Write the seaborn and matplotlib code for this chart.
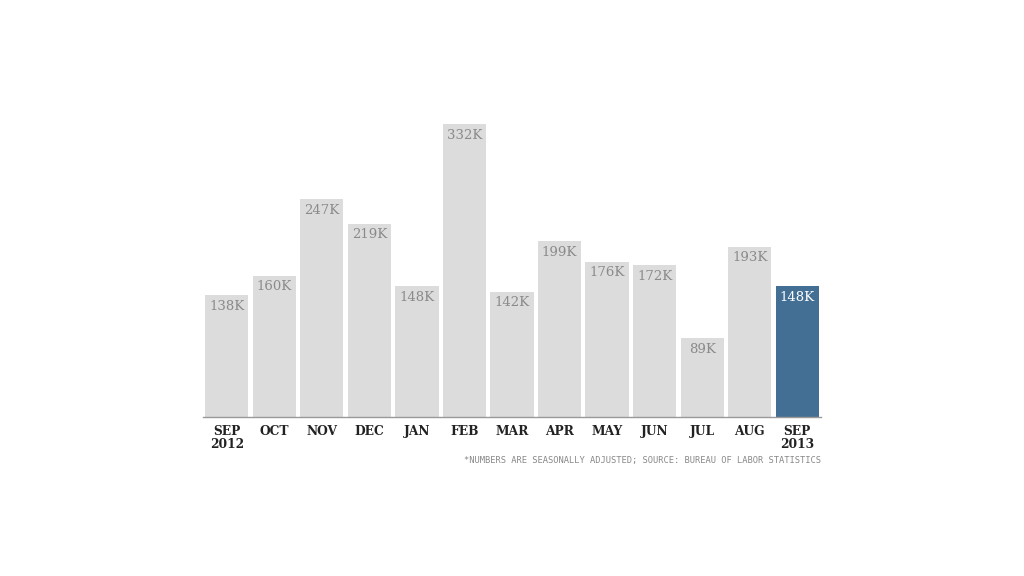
import matplotlib
matplotlib.use("Agg")
import matplotlib.pyplot as plt
import seaborn as sns
import pandas as pd

months = ["SEP\n2012", "OCT", "NOV", "DEC", "JAN", "FEB", "MAR", "APR", "MAY", "JUN", "JUL", "AUG", "SEP\n2013"]
jobs = [138, 160, 247, 219, 148, 332, 142, 199, 176, 172, 89, 193, 148]
highlight = [False] * 12 + [True]
footnote = "*NUMBERS ARE SEASONALLY ADJUSTED; SOURCE: BUREAU OF LABOR STATISTICS"

df = pd.DataFrame({"month": months, "jobs": jobs, "hl": highlight})

sns.set_theme(style="white")
fig = plt.figure(figsize=(10.24, 5.76), dpi=100)
ax = fig.add_axes([203 / 1024, 1 - 417 / 576, (821 - 203) / 1024, (417 - 124) / 576])

sns.barplot(data=df, x="month", y="jobs", hue="hl", palette={False: "#dcdcdc", True: "#426f93"},
            dodge=False, width=0.91, legend=False, ax=ax, saturation=1, linewidth=0)

ax.set_ylim(0, max(jobs))
ax.set_xlim(-0.5, len(months) - 0.5)
ax.set_xlabel("")
ax.set_ylabel("")
ax.set_yticks([])
for s in ["top", "right", "left"]:
    ax.spines[s].set_visible(False)
ax.spines["bottom"].set_color("#999999")
ax.spines["bottom"].set_linewidth(1)
ax.tick_params(axis="x", length=0, pad=6)
for lbl in ax.get_xticklabels():
    lbl.set_fontfamily("DejaVu Serif")
    lbl.set_fontweight("bold")
    lbl.set_fontsize(8.8)
    lbl.set_color("#222222")
    lbl.set_linespacing(0.95)

for i, (v, h) in enumerate(zip(jobs, highlight)):
    ax.annotate(f"{v}K", xy=(i, v), xytext=(0, -8), textcoords="offset points",
                ha="center", va="center", fontsize=9.5, family="DejaVu Serif",
                color="white" if h else "#8a8a8a")

fig.text(821 / 1024, 1 - 461 / 576, footnote, ha="right", va="center",
         fontsize=6.3, family="DejaVu Sans Mono", color="#888888")

fig.savefig("out.png", dpi=100)
